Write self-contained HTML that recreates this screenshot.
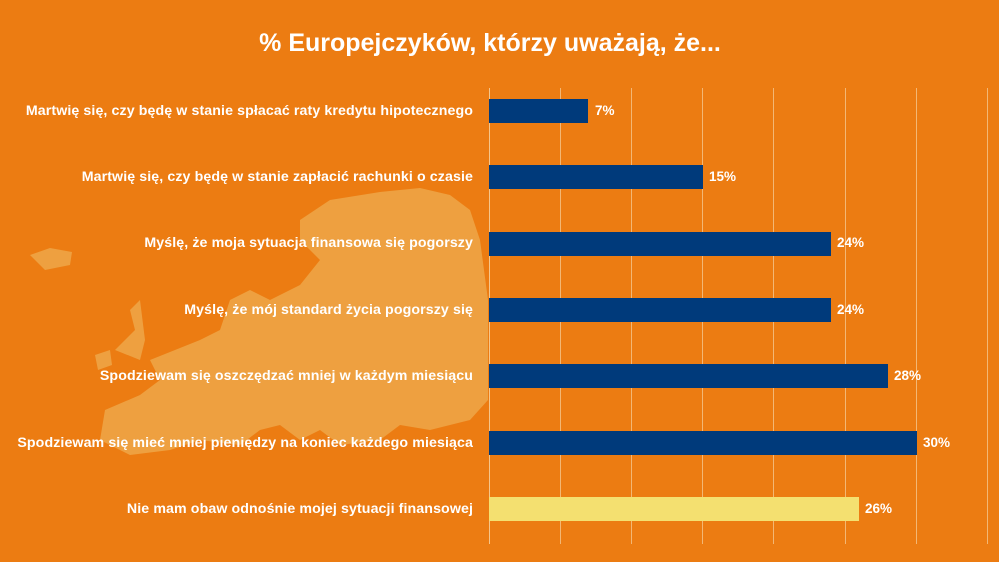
<!DOCTYPE html>
<html><head><meta charset="utf-8"><style>
body{margin:0;width:999px;height:562px;overflow:hidden;background:#EC7C12;font-family:"Liberation Sans","DejaVu Sans",sans-serif;}
.t{position:absolute;left:0;width:980px;top:29px;text-align:center;color:#fff;font-weight:bold;font-size:25px;}
.l{position:absolute;right:526px;color:#fff;font-weight:bold;font-size:14.2px;white-space:nowrap;line-height:16px;letter-spacing:0.1px;}
.b{position:absolute;left:489px;height:24px;background:#003A7B;}
.v{position:absolute;color:#fff;font-weight:bold;font-size:13.5px;line-height:16px;}
.g{position:absolute;top:88px;height:456px;width:1px;background:#F3B774;}
</style></head><body>
<svg width="999" height="562" style="position:absolute;left:0;top:0">
<g fill="#EEA040">
<path d="M300,220 L330,200 L380,192 L420,188 L450,195 L470,210 L480,240 L488,300 L488,400 L470,420 L430,430 L400,425 L380,440 L340,445 L320,430 L300,440 L280,425 L260,430 L240,445 L200,440 L170,450 L130,455 L100,440 L105,410 L140,395 L160,380 L150,360 L175,350 L200,340 L220,330 L230,300 L250,290 L270,300 L300,285 L320,260 L300,240 Z"/>
<path d="M115,350 L135,330 L130,310 L140,300 L145,340 L140,360 Z"/>
<path d="M95,355 L110,350 L112,365 L98,370 Z"/>
<path d="M30,255 L50,248 L72,252 L70,265 L45,270 Z"/>
</g>
</svg>
<div class="t">% Europejczyków, którzy uważają, że...</div>
<div class="g" style="left:489px;background:#F5C58A"></div>
<div class="g" style="left:560px"></div><div class="g" style="left:631px"></div><div class="g" style="left:702px"></div><div class="g" style="left:773px"></div><div class="g" style="left:845px"></div><div class="g" style="left:916px"></div><div class="g" style="left:987px"></div>

<div class="l" style="top:103px">Martwię się, czy będę w stanie spłacać raty kredytu hipotecznego</div>
<div class="l" style="top:169px">Martwię się, czy będę w stanie zapłacić rachunki o czasie</div>
<div class="l" style="top:235px">Myślę, że moja sytuacja finansowa się pogorszy</div>
<div class="l" style="top:302px">Myślę, że mój standard życia pogorszy się</div>
<div class="l" style="top:368px">Spodziewam się oszczędzać mniej w każdym miesiącu</div>
<div class="l" style="top:435px">Spodziewam się mieć mniej pieniędzy na koniec każdego miesiąca</div>
<div class="l" style="top:501px">Nie mam obaw odnośnie mojej sytuacji finansowej</div>

<div class="b" style="top:99px;width:99px"></div><div class="v" style="left:595px;top:103px">7%</div>
<div class="b" style="top:165px;width:214px"></div><div class="v" style="left:709px;top:169px">15%</div>
<div class="b" style="top:232px;width:342px"></div><div class="v" style="left:837px;top:235px">24%</div>
<div class="b" style="top:298px;width:342px"></div><div class="v" style="left:837px;top:302px">24%</div>
<div class="b" style="top:364px;width:399px"></div><div class="v" style="left:894px;top:368px">28%</div>
<div class="b" style="top:431px;width:428px"></div><div class="v" style="left:923px;top:435px">30%</div>
<div class="b" style="top:497px;width:370px;background:#F4E070"></div><div class="v" style="left:865px;top:501px">26%</div>
</body></html>
